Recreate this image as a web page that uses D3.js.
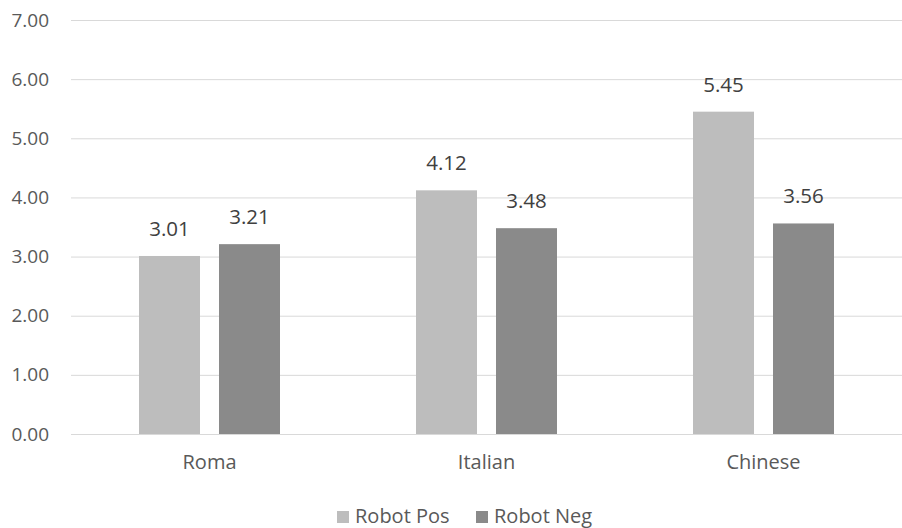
<!DOCTYPE html>
<html><head><meta charset="utf-8">
<script src="https://cdn.jsdelivr.net/npm/d3@7"></script>
<style>body{margin:0;background:#fff}svg{display:block;font-family:"Open Sans",sans-serif}</style>
</head><body><svg id="c" width="902" height="528"></svg>
<script>
const categories = ["Roma", "Italian", "Chinese"];
const seriesNames = ["Robot Pos", "Robot Neg"];
const robotPos = [3.01, 4.12, 5.45];
const robotNeg = [3.21, 3.48, 3.56];
const yTicks = [0, 1, 2, 3, 4, 5, 6, 7];
const colors = ["#bdbdbd", "#8a8a8a"];

const svg = d3.select("#c");
const mLeft = 71, mRight = 902, mTop = 20, mBottom = 434;
const x = d3.scaleBand().domain(categories).range([mLeft, mRight]);
const x1 = d3.scaleBand().domain(seriesNames).range([0, 141]).paddingInner(0.2375);
const y = d3.scaleLinear().domain([0, 7]).range([mBottom, mTop]);

// grid
svg.append("g").selectAll("line").data(yTicks).join("line")
  .attr("x1", mLeft).attr("x2", mRight)
  .attr("y1", d => y(d) + 0.5).attr("y2", d => y(d) + 0.5)
  .attr("stroke", "#d9d9d9").attr("stroke-width", 1);

// y axis labels
const yAxis = d3.axisLeft(y).tickValues(yTicks).tickFormat(d3.format(".2f")).tickSize(0).tickPadding(22);
const ga = svg.append("g").attr("transform", `translate(${mLeft},0)`).call(yAxis);
ga.select(".domain").remove();
ga.selectAll("text").attr("font-size", 19).attr("fill", "#595959").attr("font-family", "Open Sans, sans-serif");

const data = categories.map((c, i) => ({cat: c, vals: [robotPos[i], robotNeg[i]]}));
const groups = svg.append("g").selectAll("g").data(data).join("g")
  .attr("transform", d => `translate(${x(d.cat) + (x.bandwidth() - 141) / 2},0)`);
groups.selectAll("rect").data(d => d.vals.map((v, j) => ({v, s: seriesNames[j], j}))).join("rect")
  .attr("x", d => x1(d.s)).attr("width", x1.bandwidth())
  .attr("y", d => y(d.v)).attr("height", d => y(0) - y(d.v))
  .attr("fill", d => colors[d.j]);
groups.selectAll("text").data(d => d.vals.map((v, j) => ({v, s: seriesNames[j], j}))).join("text")
  .attr("x", d => x1(d.s) + x1.bandwidth() / 2).attr("y", d => y(d.v) - 20)
  .attr("text-anchor", "middle").attr("font-size", 20.5).attr("fill", "#404040")
  .text(d => d3.format(".2f")(d.v));

// x axis labels
const xAxis = d3.axisBottom(x).tickSize(0).tickPadding(21);
const gx = svg.append("g").attr("transform", `translate(0,${mBottom})`).call(xAxis);
gx.select(".domain").remove();
gx.selectAll("text").attr("font-size", 20).attr("fill", "#595959").attr("font-family", "Open Sans, sans-serif");

// legend
const legX = [337, 476];
const lg = svg.append("g").selectAll("g").data(seriesNames).join("g")
  .attr("transform", (d, i) => `translate(${legX[i]},511)`);
lg.append("rect").attr("width", 12).attr("height", 12).attr("fill", (d, i) => colors[i]);
lg.append("text").attr("x", 18).attr("y", 12).attr("font-size", 20).attr("fill", "#595959").text(d => d);
</script></body></html>
